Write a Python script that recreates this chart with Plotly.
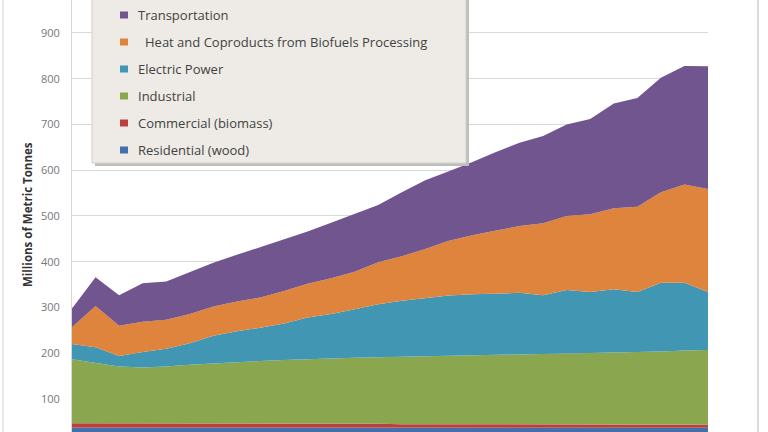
import plotly.graph_objects as go

years = list(range(2008, 2036))

series_names = [
    "Residential (wood)",
    "Commercial (biomass)",
    "Industrial",
    "Electric Power",
    "Heat and Coproducts from Biofuels Processing",
    "Transportation",
]

residential = [38, 38, 38, 38, 38, 38, 38, 38, 38, 38, 38, 38, 38, 38,
               37, 37, 37, 37, 37, 37, 37, 37, 37, 37, 37, 37, 37, 37]
commercial = [9, 9, 9, 8, 8, 8, 8, 8, 8, 8, 8, 8, 8, 8,
              8, 8, 7, 7, 7, 7, 7, 7, 7, 7, 7, 7, 7, 7]
industrial = [140, 132, 124, 123, 125, 129, 132, 135, 137, 139, 141, 143, 144, 145,
              147, 148, 150, 151, 152, 154, 155, 156, 157, 158, 159, 160, 162, 163]
electric = [33, 34, 23, 34, 39, 47, 60, 67, 73, 80, 91, 97, 106, 116,
            123, 128, 132, 134, 134, 134, 128, 138, 133, 138, 131, 150, 148, 127]
heat = [37, 90, 66, 66, 63, 64, 64, 65, 66, 71, 74, 78, 82, 92,
        97, 107, 120, 129, 138, 146, 157, 162, 170, 177, 186, 198, 215, 225]
transportation = [41, 63, 67, 84, 84, 92, 96, 102, 110, 112, 114, 121, 126, 125,
                  140, 150, 152, 160, 172, 182, 191, 200, 208, 229, 238, 250, 259, 268]

colors = ["#456FAB", "#BD3F3D", "#8AA64F", "#4197B3", "#DF843D", "#70558F"]

y_ticks = [100, 200, 300, 400, 500, 600, 700, 800, 900]
y_title = "Millions of Metric Tonnes"

values = [residential, commercial, industrial, electric, heat, transportation]

fig = go.Figure()
for name, vals, col in zip(series_names, values, colors):
    fig.add_trace(go.Scatter(
        x=years, y=vals, name=name, stackgroup="one", mode="lines",
        line=dict(width=0, color=col), fillcolor=col, showlegend=False,
        hoverinfo="x+y+name",
    ))

W, H = 768, 432
L, R = 72, 708


def px(xp):
    return (xp - L) / (R - L)


def py(yp):
    return 1 - yp / H


shapes = []
annotations = []

# frame lines
shapes.append(dict(type="line", xref="paper", yref="paper", x0=px(3), x1=px(3),
                   y0=0, y1=1, line=dict(color="#D6D6D6", width=1)))
shapes.append(dict(type="line", xref="paper", yref="paper", x0=px(758), x1=px(758),
                   y0=0, y1=1, line=dict(color="#D0D0D0", width=1.5)))

# legend box with shadow
shapes.append(dict(type="rect", xref="paper", yref="paper",
                   x0=px(95), x1=px(469), y0=py(166), y1=py(-5),
                   fillcolor="#BEBEBE", line=dict(width=0), layer="above"))
shapes.append(dict(type="rect", xref="paper", yref="paper",
                   x0=px(92), x1=px(466), y0=py(163), y1=py(-5),
                   fillcolor="#EEEBE6", line=dict(color="#D2CFC9", width=1), layer="above"))

row_y = [15, 42, 69, 96, 123, 150]
legend_order = list(reversed(range(len(series_names))))
for ry, idx in zip(row_y, legend_order):
    shapes.append(dict(type="rect", xref="paper", yref="paper",
                       x0=px(120), x1=px(128), y0=py(ry + 3.5), y1=py(ry - 3.5),
                       fillcolor=colors[idx], line=dict(width=0), layer="above"))
    label = series_names[idx]
    xoff = 144 if idx == 4 else 137
    annotations.append(dict(text=label, xref="paper", yref="paper",
                            x=px(xoff), y=py(ry), xanchor="left", yanchor="middle",
                            showarrow=False, borderpad=0,
                            font=dict(family="Open Sans", size=13, color="#424242")))

annotations.append(dict(text="<b>" + y_title + "</b>", xref="paper", yref="paper",
                        x=px(28), y=py(215), textangle=-90, showarrow=False,
                        xanchor="center", yanchor="middle",
                        font=dict(family="Open Sans", size=11.5, color="#333333")))

fig.update_layout(
    width=W, height=H,
    margin=dict(l=L, r=W - R, t=0, b=0),
    paper_bgcolor="white", plot_bgcolor="white",
    shapes=shapes, annotations=annotations,
    xaxis=dict(range=[years[0], years[-1]], showgrid=False, showticklabels=False,
               zeroline=False, showline=False, ticks=""),
    yaxis=dict(range=[27.9, 972], tickvals=y_ticks, ticktext=[str(v) for v in y_ticks],
               showgrid=True, gridcolor="#D9D9D9", gridwidth=1, zeroline=False,
               showline=True, linecolor="#D9D9D9", linewidth=1,
               ticks="", ticklabelstandoff=9,
               tickfont=dict(family="Open Sans", size=11, color="#777777")),
    showlegend=False,
)

fig.write_html("out.html")
